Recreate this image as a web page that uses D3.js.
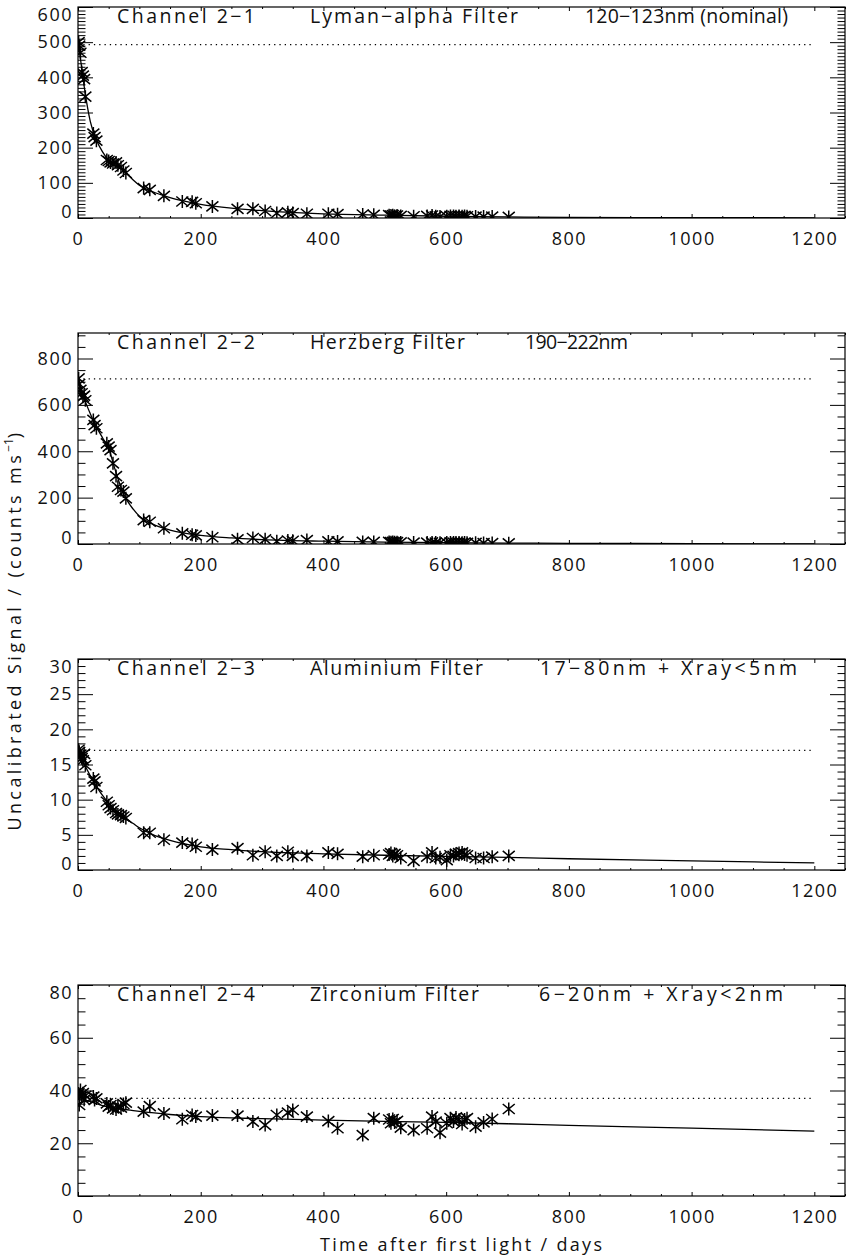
<!DOCTYPE html>
<html>
<head>
<meta charset="utf-8">
<script src="https://cdn.jsdelivr.net/npm/d3@7"></script>
<style>
  body { margin: 0; background: #fff; }
  svg text { font-family: "Open Sans", "DejaVu Sans", sans-serif; font-weight: 400; font-size: 18px; letter-spacing: 1.5px; fill: #111; }
  svg text.cap { font-size: 19.5px; letter-spacing: 0px; }
</style>
</head>
<body>
<svg id="chart" width="846" height="1260"></svg>
<script>
// measurement days (shared by all four channels)
const days = [1, 2, 4, 6, 8, 10, 12, 25, 27, 30, 47, 50, 53, 57, 62, 65, 70, 74, 78, 107, 117, 140, 170, 186, 192, 219,
  260, 285, 305, 324, 342, 350, 373, 408, 423, 464, 482, 507, 510, 513, 516, 520, 526, 547, 569, 577, 583, 590,
  601, 607, 612, 616, 621, 626, 630, 634, 648, 661, 675, 702];

const lymanAlpha = [500, 490, 470, 415, 405, 395, 345, 240, 230, 220, 165, 162, 158, 155, 158, 150, 145, 135, 128, 85, 80, 63, 47, 46, 42, 33,
  26, 26, 20, 14, 16, 14, 12, 12, 11, 10, 9, 8, 7, 8, 6, 7, 6, 5, 6, 7, 5, 4,
  5, 6, 6, 5, 6, 5, 6, 5, 4, 4, 4, 3];
const herzberg = [714, 690, 665, 650, 635, 640, 620, 535, 513, 499, 434, 420, 405, 348, 293, 247, 233, 226, 197, 103, 96, 68, 46, 40, 37, 29,
  20, 26, 20, 12, 15, 14, 17, 11, 11, 9, 9, 9, 8, 9, 8, 8, 7, 6, 6, 7, 6, 5,
  6, 7, 6, 6, 6, 5, 6, 5, 5, 4, 4, 3];
const aluminium = [17.1, 16.8, 16.4, 15.9, 15.6, 16.5, 14.9, 13.0, 12.6, 11.8, 9.7, 9.2, 8.8, 8.5, 8.1, 7.9, 7.8, 7.6, 7.4, 5.3, 5.3, 4.3, 3.9, 3.7, 3.3, 2.9,
  3.1, 2.1, 2.6, 2.0, 2.6, 2.0, 2.0, 2.5, 2.3, 1.9, 2.1, 2.2, 2.4, 2.0, 2.3, 2.1, 1.7, 1.3, 1.9, 2.5, 1.7, 1.8,
  1.4, 2.1, 2.0, 2.3, 2.4, 2.5, 2.2, 2.1, 1.7, 1.7, 1.9, 2.0];
const zirconium = [38.9, 34.5, 40.2, 37.7, 39.0, 36.5, 38.0, 37.7, 36.4, 37.0, 35.1, 33.9, 34.5, 33.2, 32.8, 33.9, 33.5, 34.9, 35.4, 32.0, 34.1, 31.3, 29.1, 30.7, 30.1, 30.5,
  30.5, 28.2, 26.9, 30.7, 31.6, 32.6, 30.1, 28.4, 25.7, 23.1, 29.5, 29.0, 27.6, 29.2, 27.9, 28.5, 25.9, 25.0, 25.7, 30.1, 28.2, 24.0,
  27.6, 29.5, 28.2, 29.8, 28.9, 27.3, 29.0, 29.5, 26.3, 27.9, 29.2, 33.0];

// fitted degradation curves, read at these days
const fitDays = [0, 5, 10, 20, 30, 40, 50, 60, 70, 80, 90, 100, 120, 150, 200, 250, 300, 400, 500, 600, 700, 800, 1000, 1200];
const lymanFit = [500, 440, 375, 275, 222, 188, 165, 152, 140, 125, 108, 93, 76, 58, 39, 28, 21, 12, 8, 5, 3, 2, 1, 0.5];
const herzbergFit = [705, 668, 628, 562, 505, 458, 412, 325, 245, 188, 150, 120, 88, 60, 37, 26, 19, 12, 8, 6, 4, 3, 1.5, 0.5];
const aluminiumFit = [17.0, 16.0, 15.1, 13.4, 11.9, 10.6, 9.5, 8.6, 7.9, 7.2, 6.6, 6.0, 5.1, 4.2, 3.3, 2.9, 2.6, 2.3, 2.1, 1.95, 1.8, 1.6, 1.3, 1.0];
const zirconiumFit = [37.5, 37.0, 36.6, 35.8, 35.0, 34.3, 33.7, 33.3, 33.0, 32.7, 32.4, 32.1, 31.6, 30.9, 30.1, 29.6, 29.3, 28.8, 28.3, 27.9, 27.4, 26.8, 25.7, 24.6];

// nominal (first light) level, dotted
const nominal = [493, 712, 17, 37];

const channelNames = ["Channel 2\u22121", "Channel 2\u22122", "Channel 2\u22123", "Channel 2\u22124"];
const filterNames = ["Lyman\u2212alpha Filter", "Herzberg Filter", "Aluminium Filter", "Zirconium Filter"];
const bandNames = ["120\u2212123nm (nominal)", "190\u2212222nm", "17\u221280nm + Xray<5nm", "6\u221220nm + Xray<2nm"];

const yMax = [600, 910, 30, 80];
const yTicks = [[0, 100, 200, 300, 400, 500, 600], [0, 200, 400, 600, 800], [0, 5, 10, 15, 20, 25, 30], [0, 20, 40, 60, 80]];
const yMinorStep = [10, 50, 1, 5];
const xTicks = [0, 200, 400, 600, 800, 1000, 1200];

const series = [lymanAlpha, herzberg, aluminium, zirconium];
const fits = [lymanFit, herzbergFit, aluminiumFit, zirconiumFit];

const svg = d3.select("#chart");
const left = 78, right = 845, panelH = 211, pitch = 326;

// caption layout (start x, width) to mimic the wide IDL vector font
const filterW = [208, 155, 173, 169];
const bandX = [585, 525, 540, 539];
const bandW = [203, 103, 257, 244];

const x = d3.scaleLinear().domain([0, 1250]).range([left, right]);
const xMinor = d3.range(0, 1251, 50).filter(d => d % 200 !== 0);

// asterisk like IDL psym=2
const star = "M0,-6.5V6.5M-6,-5L6,5M-6,5L6,-5";

function strip(g) {
    g.select(".domain").remove();
    g.attr("font-family", null).attr("font-size", null);
}

for (let i = 0; i < 4; i++) {
    const top = 7 + pitch * i, bot = top + panelH;
    const y = d3.scaleLinear().domain([0, yMax[i]]).range([bot, top]);
    const yMinor = d3.range(0, yMax[i] + 0.001, yMinorStep[i]).filter(d => !yTicks[i].includes(d));

    svg.append("clipPath").attr("id", "clip" + i)
        .append("rect").attr("x", left).attr("y", top).attr("width", right - left).attr("height", panelH);

    // bottom axis
    svg.append("g").attr("transform", `translate(0,${bot})`)
        .call(d3.axisBottom(x).tickValues(xTicks).tickSize(-4).tickSizeOuter(0).tickPadding(14).tickFormat(d3.format("d")))
        .call(strip);
    svg.append("g").attr("transform", `translate(0,${bot})`)
        .call(d3.axisBottom(x).tickValues(xMinor).tickSize(-2).tickSizeOuter(0).tickFormat(""))
        .call(strip);
    // top axis
    svg.append("g").attr("transform", `translate(0,${top})`)
        .call(d3.axisTop(x).tickValues(xTicks).tickSize(-4).tickSizeOuter(0).tickFormat(""))
        .call(strip);
    svg.append("g").attr("transform", `translate(0,${top})`)
        .call(d3.axisTop(x).tickValues(xMinor).tickSize(-2).tickSizeOuter(0).tickFormat(""))
        .call(strip);

    // left axis
    const yl = svg.append("g").attr("transform", `translate(${left},0)`)
        .call(d3.axisLeft(y).tickValues(yTicks[i]).tickSize(-15).tickSizeOuter(0).tickPadding(5).tickFormat(d3.format("d")))
        .call(strip);
    // keep end labels inside the frame, as IDL does
    yl.selectAll(".tick text").attr("y", d => {
        const py = y(d);
        if (py < top + 7.5) return top + 7.5 - py;
        if (py > bot - 6.5) return bot - 6.5 - py;
        return 0;
    });
    svg.append("g").attr("transform", `translate(${left},0)`)
        .call(d3.axisLeft(y).tickValues(yMinor).tickSize(-7.5).tickSizeOuter(0).tickFormat(""))
        .call(strip);
    // right axis
    svg.append("g").attr("transform", `translate(${right},0)`)
        .call(d3.axisRight(y).tickValues(yTicks[i]).tickSize(-15).tickSizeOuter(0).tickFormat(""))
        .call(strip);
    svg.append("g").attr("transform", `translate(${right},0)`)
        .call(d3.axisRight(y).tickValues(yMinor).tickSize(-7.5).tickSizeOuter(0).tickFormat(""))
        .call(strip);

    // frame
    svg.append("rect").attr("x", left).attr("y", top).attr("width", right - left).attr("height", panelH)
        .attr("fill", "none").attr("stroke", "#000").attr("stroke-width", 1.2);

    const plot = svg.append("g").attr("clip-path", `url(#clip${i})`);

    // nominal level
    plot.append("path")
        .datum([0, 1200])
        .attr("d", d3.line().x(d => x(d)).y(() => y(nominal[i])))
        .attr("fill", "none").attr("stroke", "#000").attr("stroke-width", 1.2)
        .attr("stroke-dasharray", "1.3,4");

    // fit
    plot.append("path")
        .datum(fitDays.map((d, k) => [d, fits[i][k]]))
        .attr("d", d3.line().x(d => x(d[0])).y(d => y(d[1])).curve(d3.curveMonotoneX))
        .attr("fill", "none").attr("stroke", "#000").attr("stroke-width", 1.3);

    // measurements
    plot.selectAll(".pt").data(days.map((d, k) => [d, series[i][k]])).join("path")
        .attr("class", "pt")
        .attr("transform", d => `translate(${x(d[0])},${y(d[1])})`)
        .attr("d", star)
        .attr("fill", "none").attr("stroke", "#000").attr("stroke-width", 1.5);

    // panel caption
    const cap = (tx, w, s) => svg.append("text").attr("class", "cap").attr("x", tx).attr("y", top + 16)
        .attr("textLength", w).attr("lengthAdjust", "spacing").text(s);
    cap(117, 138, channelNames[i]);
    cap(310, filterW[i], filterNames[i]);
    cap(bandX[i], bandW[i], bandNames[i]);
}

// axis titles
svg.append("text").attr("x", 320).attr("y", 1251)
    .attr("textLength", 282).attr("lengthAdjust", "spacing").style("letter-spacing", "0px")
    .text("Time after first light / days");

const yt = svg.append("text").attr("transform", "translate(21,630) rotate(-90)").attr("text-anchor", "middle")
    .style("letter-spacing", "3.4px");
yt.append("tspan").text("Uncalibrated Signal / (counts ms");
yt.append("tspan").attr("baseline-shift", "super").style("font-size", "12px").style("letter-spacing", "0px").text("\u22121");
yt.append("tspan").text(")");
</script>
</body>
</html>
